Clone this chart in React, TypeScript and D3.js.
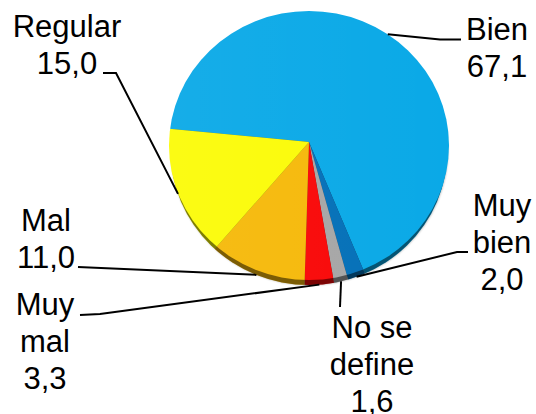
import * as d3 from "d3";

// clockwise from the top-left edge of the big slice
const categories = ["Bien", "Muy bien", "No se define", "Muy mal", "Mal", "Regular"];
const values = [67.1, 2.0, 1.6, 3.3, 11.0, 15.0];
const colors = ["#0aa9e7", "#0470b8", "#a6a6a6", "#f90808", "#f6b90a", "#fbfb08"];

// label text is split over lines the same way as the picture
const labelLines = [["Bien"], ["Muy", "bien"], ["No se", "define"], ["Muy", "mal"], ["Mal"], ["Regular"]];
const labelPos = [
    { x: 497, y: 40, elbow: [[440, 39.5], [461, 39.5]] },
    { x: 502, y: 216, elbow: [[457, 252], [468, 252]] },
    { x: 372, y: 338, elbow: [[340, 307]] },
    { x: 45, y: 315, elbow: [[100, 314], [80, 315]] },
    { x: 46, y: 231, elbow: [[78, 267]] },
    { x: 67, y: 37, elbow: [[116, 73], [103, 73]] },
];

const width = 536;
const height = 414;
const apex = { x: 309, y: 142 };
const face = { cx: 309, cy: 145.5, rx: 140, ry: 134.5 };
const edge = { cx: 309, cy: 150, rx: 138.5, ry: 135 };
const lineGap = 37;

const pie = d3
    .pie<number>()
    .sort(null)
    .startAngle((275.4 * Math.PI) / 180)
    .endAngle((275.4 * Math.PI) / 180 + Math.PI * 2);
const slices = pie(values);
// slices overshoot the rim and get cut by the ellipse clip
const arc = d3.arc<d3.PieArcDatum<number>>().innerRadius(0).outerRadius(220);

// where a ray from the apex at this angle hits the ellipse
function rimPoint(angle: number): [number, number] {
    const dx = Math.sin(angle);
    const dy = -Math.cos(angle);
    const e = dy > 0 ? edge : face;
    const ox = (apex.x - e.cx) / e.rx;
    const oy = (apex.y - e.cy) / e.ry;
    const a = (dx / e.rx) ** 2 + (dy / e.ry) ** 2;
    const b = 2 * (ox * dx / e.rx + oy * dy / e.ry);
    const c = ox * ox + oy * oy - 1;
    const t = (-b + Math.sqrt(b * b - 4 * a * c)) / (2 * a);
    return [apex.x + t * dx, apex.y + t * dy];
}

const leader = d3.line();
const fmt = (v: number) => v.toFixed(1).replace(".", ",");

function Slices() {
    return (
        <g transform={`translate(${apex.x},${apex.y})`}>
            {slices.map((s, i) => (
                <path key={categories[i]} d={arc(s) ?? ""} fill={colors[i]} />
            ))}
        </g>
    );
}

export default function App() {
    return (
        <svg
            width={width}
            height={height}
            viewBox={`0 0 ${width} ${height}`}
            style={{ position: "absolute", left: 0, top: 0, fontFamily: "'Liberation Sans', Arial, sans-serif" }}
        >
            <defs>
                <clipPath id="edgeClip">
                    <ellipse cx={edge.cx} cy={edge.cy} rx={edge.rx} ry={edge.ry} />
                </clipPath>
                <clipPath id="faceClip">
                    <ellipse cx={face.cx} cy={face.cy} rx={face.rx} ry={face.ry} />
                </clipPath>
                <filter id="soft" x="-10%" y="-10%" width="120%" height="120%">
                    <feGaussianBlur stdDeviation="1.2" />
                </filter>
                <linearGradient id="sheen" x1="0" x2="1" y1="0" y2="0">
                    <stop offset="0" stopColor="#fff" stopOpacity={0.05} />
                    <stop offset="1" stopColor="#fff" stopOpacity={0} />
                </linearGradient>
            </defs>

            <ellipse cx={edge.cx + 0.5} cy={edge.cy} rx={edge.rx} ry={edge.ry} fill="#000" opacity={0.3} filter="url(#soft)" />

            <g clipPath="url(#edgeClip)">
                <Slices />
                <rect x={0} y={0} width={width} height={height} fill="#000" opacity={0.5} />
            </g>
            <g clipPath="url(#faceClip)">
                <Slices />
                <rect x={face.cx - face.rx} y={0} width={face.rx * 2} height={height} fill="url(#sheen)" />
            </g>

            {slices.map((s, i) => {
                const mid = (s.startAngle + s.endAngle) / 2;
                const pts = [rimPoint(mid), ...labelPos[i].elbow] as [number, number][];
                return <path key={categories[i]} d={leader(pts) ?? ""} fill="none" stroke="#000" strokeWidth={2} />;
            })}

            {categories.map((c, i) => {
                const lines = [...labelLines[i], fmt(values[i])];
                return (
                    <text key={c} x={labelPos[i].x} y={labelPos[i].y} textAnchor="middle" fontSize={31} fill="#000">
                        {lines.map((l, j) => (
                            <tspan key={j} x={labelPos[i].x} dy={j === 0 ? 0 : lineGap}>
                                {l}
                            </tspan>
                        ))}
                    </text>
                );
            })}
        </svg>
    );
}
